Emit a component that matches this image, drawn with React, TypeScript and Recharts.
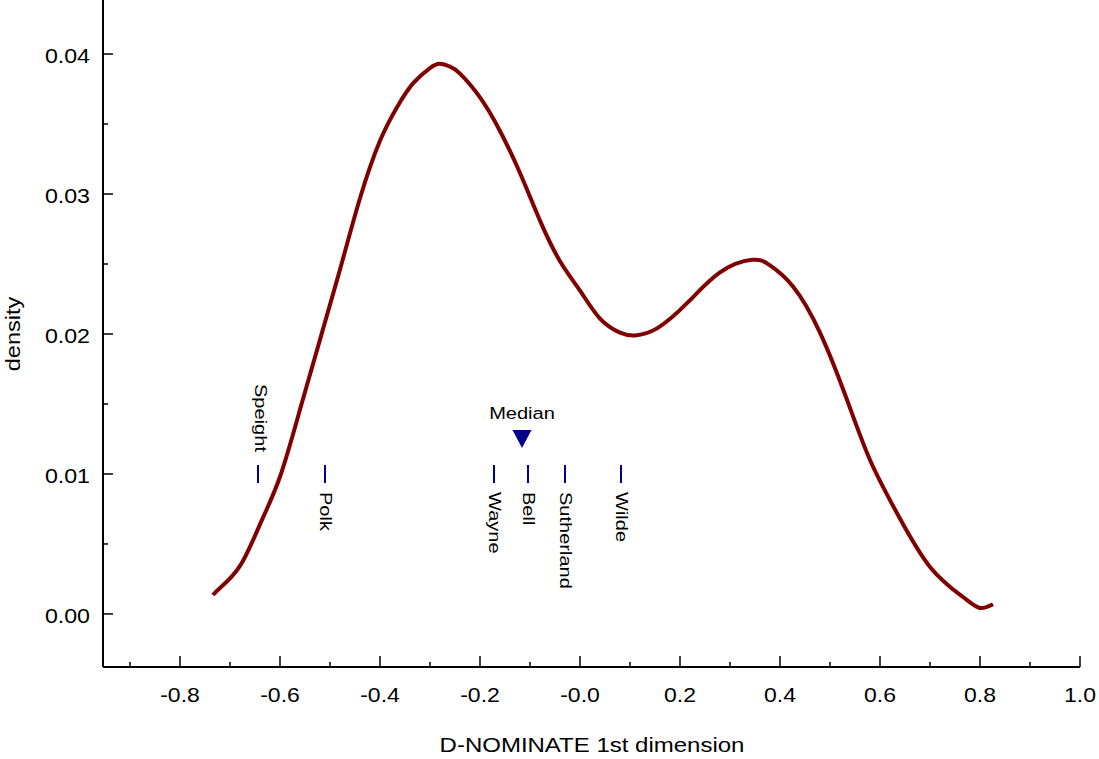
import { ComposedChart, Line, Scatter, XAxis, YAxis } from 'recharts'

const curveX = [
  -0.734, -0.72, -0.68, -0.64, -0.6, -0.56, -0.52, -0.48, -0.44, -0.4, -0.366, -0.334, -0.3,
  -0.28, -0.26, -0.24, -0.2, -0.16, -0.12, -0.08, -0.04, 0.0, 0.04, 0.08, 0.11, 0.154, 0.214,
  0.28, 0.344, 0.38, 0.426, 0.48, 0.534, 0.58, 0.634, 0.7, 0.766, 0.8, 0.826,
]
const curveY = [
  0.00136, 0.00186, 0.00343, 0.0064, 0.0098, 0.0146, 0.0196, 0.0246, 0.0297, 0.0338, 0.0362,
  0.0379, 0.039, 0.0393, 0.0391, 0.0386, 0.0369, 0.0345, 0.0315, 0.0281, 0.0252, 0.0231, 0.0211,
  0.0201, 0.0199, 0.0204, 0.0222, 0.0244, 0.0253, 0.0249, 0.0234, 0.0201, 0.0153, 0.011, 0.0072,
  0.00336, 0.00121, 0.00043, 0.0007,
]

const rugNames = ['Speight', 'Polk', 'Wayne', 'Bell', 'Sutherland', 'Wilde']
const rugX = [-0.644, -0.51, -0.172, -0.104, -0.03, 0.082]
const rugLevel = 0.01
const medianX = -0.116
const medianLevel = 0.0125

const xTicks = [-0.9, -0.8, -0.7, -0.6, -0.5, -0.4, -0.3, -0.2, -0.1, 0, 0.1, 0.2, 0.3, 0.4, 0.5, 0.6, 0.7, 0.8, 0.9, 1.0]
const xMajor = [-0.8, -0.6, -0.4, -0.2, 0, 0.2, 0.4, 0.6, 0.8, 1.0]
const xMajorLabels = ['-0.8', '-0.6', '-0.4', '-0.2', '-0.0', '0.2', '0.4', '0.6', '0.8', '1.0']
const yTicks = [0, 0.005, 0.01, 0.015, 0.02, 0.025, 0.03, 0.035, 0.04]
const yMajor = [0, 0.01, 0.02, 0.03, 0.04]
const yMajorLabels = ['0.00', '0.01', '0.02', '0.03', '0.04']

const curveData = curveX.map((x, i) => ({ x, y: curveY[i] }))
const rugData = rugNames.map((name, i) => ({ x: rugX[i], y: rugLevel, name, above: i === 0 }))
const medianData = [{ x: medianX, y: medianLevel }]

const FONT = '"Liberation Sans", Arial, sans-serif'
const NAVY = '#00008b'

function XTick(props: any) {
  const { x, y, payload } = props
  const idx = xMajor.findIndex((v) => Math.abs(v - payload.value) < 1e-6)
  const major = idx >= 0
  return (
    <g>
      <line x1={x} x2={x} y1={y} y2={y - (major ? 11 : 5)} stroke="#000" strokeWidth={1.5} />
      {major ? (
        <text
          transform={`translate(${x},${y + 28}) scale(1.15,1)`}
          textAnchor="middle"
          dominantBaseline="central"
          fontSize={20}
          fontFamily={FONT}
          fill="#000"
        >
          {xMajorLabels[idx]}
        </text>
      ) : null}
    </g>
  )
}

function YTick(props: any) {
  const { x, y, payload } = props
  const idx = yMajor.findIndex((v) => Math.abs(v - payload.value) < 1e-9)
  const major = idx >= 0
  return (
    <g>
      <line x1={x} x2={x + (major ? 10 : 5)} y1={y} y2={y} stroke="#000" strokeWidth={1.5} />
      {major ? (
        <text
          transform={`translate(${x - 13},${y + 2}) scale(1.16,1)`}
          textAnchor="end"
          dominantBaseline="central"
          fontSize={20}
          fontFamily={FONT}
          fill="#000"
        >
          {yMajorLabels[idx]}
        </text>
      ) : null}
    </g>
  )
}

function RugMark(props: any) {
  const { cx, cy, payload } = props
  if (cx == null || cy == null) return null
  const above = payload.above
  const ty = above ? cy - 22 : cy + 18
  return (
    <g>
      <line x1={cx} x2={cx} y1={cy - 9} y2={cy + 9} stroke={NAVY} strokeWidth={2} />
      <text
        transform={`translate(${cx + (above ? 3 : 1)},${ty}) rotate(90) scale(1.18,1)`}
        textAnchor={above ? 'end' : 'start'}
        dominantBaseline="central"
        fontSize={17}
        fontFamily={FONT}
        fill="#000"
      >
        {payload.name}
      </text>
    </g>
  )
}

function MedianMark(props: any) {
  const { cx, cy } = props
  if (cx == null || cy == null) return null
  return (
    <g>
      <path d={`M${cx - 9.5},${cy - 9} L${cx + 9.5},${cy - 9} L${cx},${cy + 9} Z`} fill={NAVY} />
      <text
        transform={`translate(${cx},${cy - 20}) scale(1.18,1)`}
        textAnchor="middle"
        fontSize={17}
        fontFamily={FONT}
        fill="#000"
      >
        Median
      </text>
    </g>
  )
}

export default function App() {
  return (
    <div style={{ position: 'absolute', left: 0, top: 0, width: 1099, height: 759, background: '#fff' }}>
      <ComposedChart
        width={1099}
        height={759}
        data={curveData}
        margin={{ top: 0, right: 19, bottom: 0, left: 43 }}
      >
        <XAxis
          type="number"
          dataKey="x"
          domain={[-0.954, 1.0]}
          allowDataOverflow
          ticks={xTicks}
          interval={0}
          tickSize={0}
          tickMargin={0}
          tickLine={false}
          tick={<XTick />}
          height={92}
          axisLine={{ stroke: '#000', strokeWidth: 2 }}
        />
        <YAxis
          type="number"
          domain={[-0.00379, 0.04386]}
          allowDataOverflow
          ticks={yTicks}
          interval={0}
          tickSize={0}
          tickMargin={0}
          tickLine={false}
          tick={<YTick />}
          width={60}
          axisLine={{ stroke: '#000', strokeWidth: 2 }}
        />
        <Line
          type="natural"
          dataKey="y"
          stroke="#800000"
          strokeWidth={4}
          dot={false}
          activeDot={false}
          isAnimationActive={false}
        />
        <Scatter data={rugData} dataKey="y" shape={<RugMark />} isAnimationActive={false} />
        <Scatter data={medianData} dataKey="y" shape={<MedianMark />} isAnimationActive={false} />
        <text
          transform="translate(13,334) rotate(-90) scale(1.18,1)"
          textAnchor="middle"
          dominantBaseline="central"
          fontSize={20}
          fontFamily={FONT}
          fill="#000"
        >
          density
        </text>
        <text
          transform="translate(592,752) scale(1.2,1)"
          textAnchor="middle"
          fontSize={20}
          fontFamily={FONT}
          fill="#000"
        >
          D-NOMINATE 1st dimension
        </text>
      </ComposedChart>
    </div>
  )
}
